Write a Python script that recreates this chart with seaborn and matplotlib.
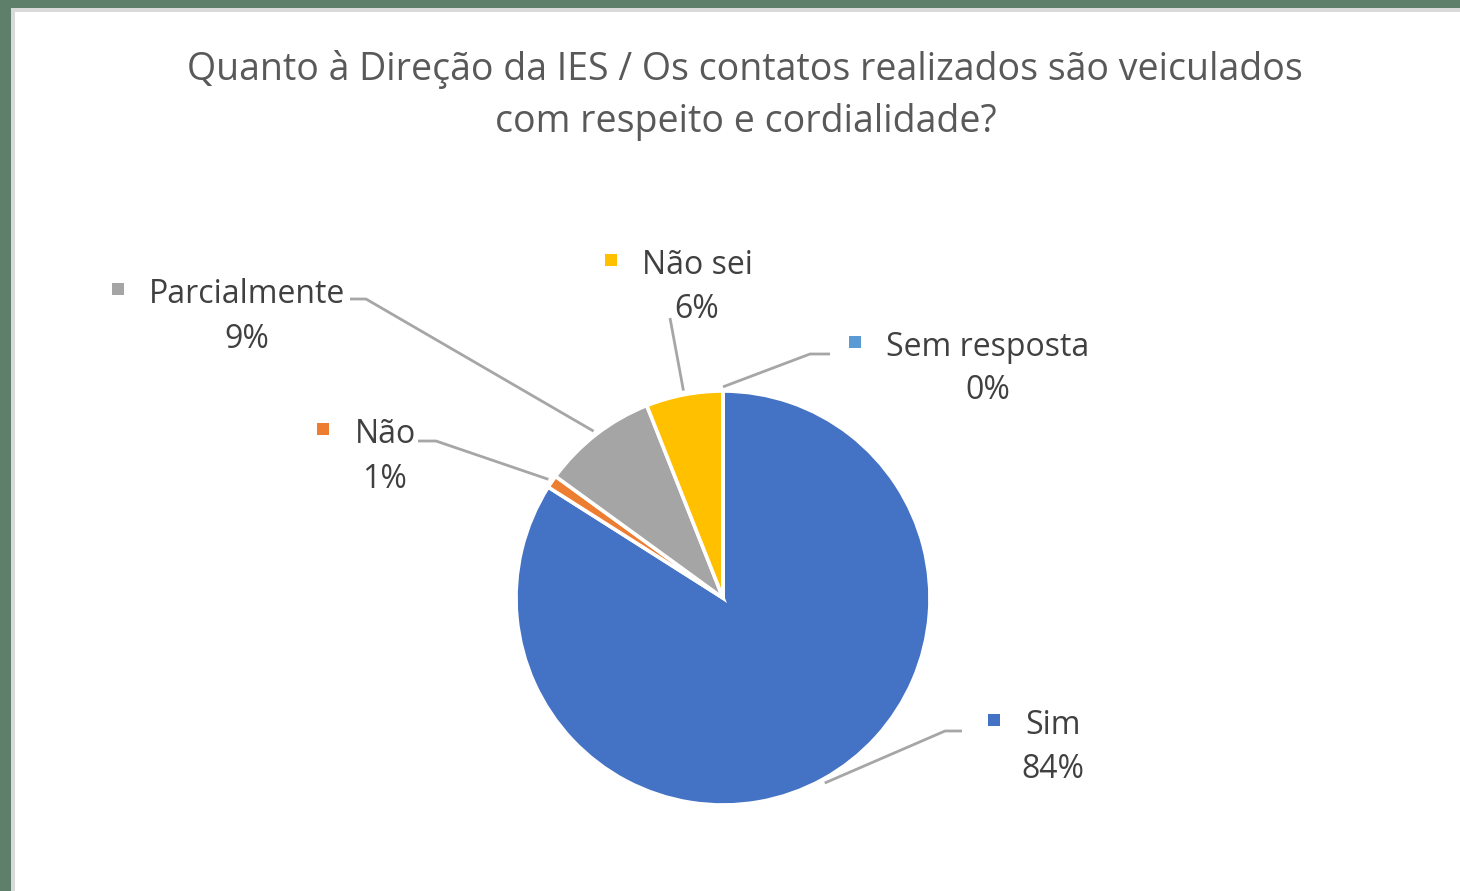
import matplotlib
matplotlib.use("Agg")
import matplotlib.pyplot as plt
from matplotlib.patches import Rectangle
import numpy as np
import seaborn as sns

# Survey answers
categories = ["Sim", "Não", "Parcialmente", "Não sei", "Sem resposta"]
percentages = [84, 1, 9, 6, 0]
colors = ["#4472C4", "#ED7D31", "#A5A5A5", "#FFC000", "#5B9BD5"]
title_lines = ["Quanto à Direção da IES / Os contatos realizados são veiculados",
               "com respeito e cordialidade?"]

sns.set_theme(style="white")
palette = sns.color_palette(colors)
plt.rcParams["font.family"] = ["Open Sans", "DejaVu Sans"]

W, H = 1460, 891
fig = plt.figure(figsize=(W / 100, H / 100), dpi=100)
fig.patch.set_facecolor("#5e7f6a")

# White slide panel with a thin light edge
fig.patches.append(Rectangle((11 / W, 0), 1 - 11 / W, 1 - 8 / H, transform=fig.transFigure,
                             facecolor="#d9d9d9", edgecolor="none", zorder=-10))
fig.patches.append(Rectangle((15 / W, 0), 1 - 15 / W, 1 - 12 / H, transform=fig.transFigure,
                             facecolor="white", edgecolor="none", zorder=-9))

# Pie
cx, cy, r = 723, 598, 207
pie_ax = fig.add_axes([(cx - r) / W, (H - cy - r) / H, 2 * r / W, 2 * r / H])
pie_ax.pie(percentages, colors=palette, startangle=90, counterclock=False, radius=1,
           wedgeprops=dict(edgecolor="white", linewidth=2.6))
pie_ax.set_xlim(-1, 1)
pie_ax.set_ylim(-1, 1)
pie_ax.set_aspect("equal")
pie_ax.axis("off")

# Overlay in pixel coordinates for title, labels and leader lines
ov = fig.add_axes([0, 0, 1, 1])
ov.set_xlim(0, W)
ov.set_ylim(H, 0)
ov.axis("off")
ov.patch.set_alpha(0)

title_color = "#595959"
label_color = "#404040"
ov.text(745, 80, title_lines[0], ha="center", va="baseline", fontsize=27, color=title_color)
ov.text(746, 132, title_lines[1], ha="center", va="baseline", fontsize=27, color=title_color)

# label layout: name centre x, name baseline, value baseline, leader path start points
label_layout = {
    "Sim": (1053, 734, 778, [(962, 731), (945, 731)]),
    "Não": (385, 443, 488, [(418, 441), (436, 441)]),
    "Parcialmente": (247, 303, 348, [(350, 299), (366, 299)]),
    "Não sei": (697, 274, 318, [(670, 318)]),
    "Sem resposta": (988, 356, 399, [(830, 354), (810, 354)]),
}

cum = np.cumsum([0] + percentages) / 100.0
name_texts = []
for i, cat in enumerate(categories):
    xc, yb1, yb2, path = label_layout[cat]
    t = ov.text(xc, yb1, cat, ha="center", va="baseline", fontsize=23, color=label_color)
    ov.text(xc, yb2, f"{percentages[i]}%", ha="center", va="baseline", fontsize=23,
            color=label_color)
    name_texts.append((t, i, yb1))
    # leader line to the wedge edge at its middle angle
    fmid = (cum[i] + cum[i + 1]) / 2
    ang = np.deg2rad(90 - 360 * fmid)
    ex = cx + r * 1.02 * np.cos(ang)
    ey = cy - r * 1.02 * np.sin(ang)
    xs = [p[0] for p in path] + [ex]
    ys = [p[1] for p in path] + [ey]
    ov.plot(xs, ys, color="#a6a6a6", lw=2.0, solid_capstyle="butt")

# legend keys placed just left of each label name
fig.canvas.draw()
renderer = fig.canvas.get_renderer()
for t, i, yb in name_texts:
    bb = t.get_window_extent(renderer)
    left_px = bb.x0
    ov.add_patch(Rectangle((left_px - 37, yb - 20), 12, 12, facecolor=palette[i],
                           edgecolor="none"))

fig.savefig("out.png", dpi=100, facecolor=fig.get_facecolor())
